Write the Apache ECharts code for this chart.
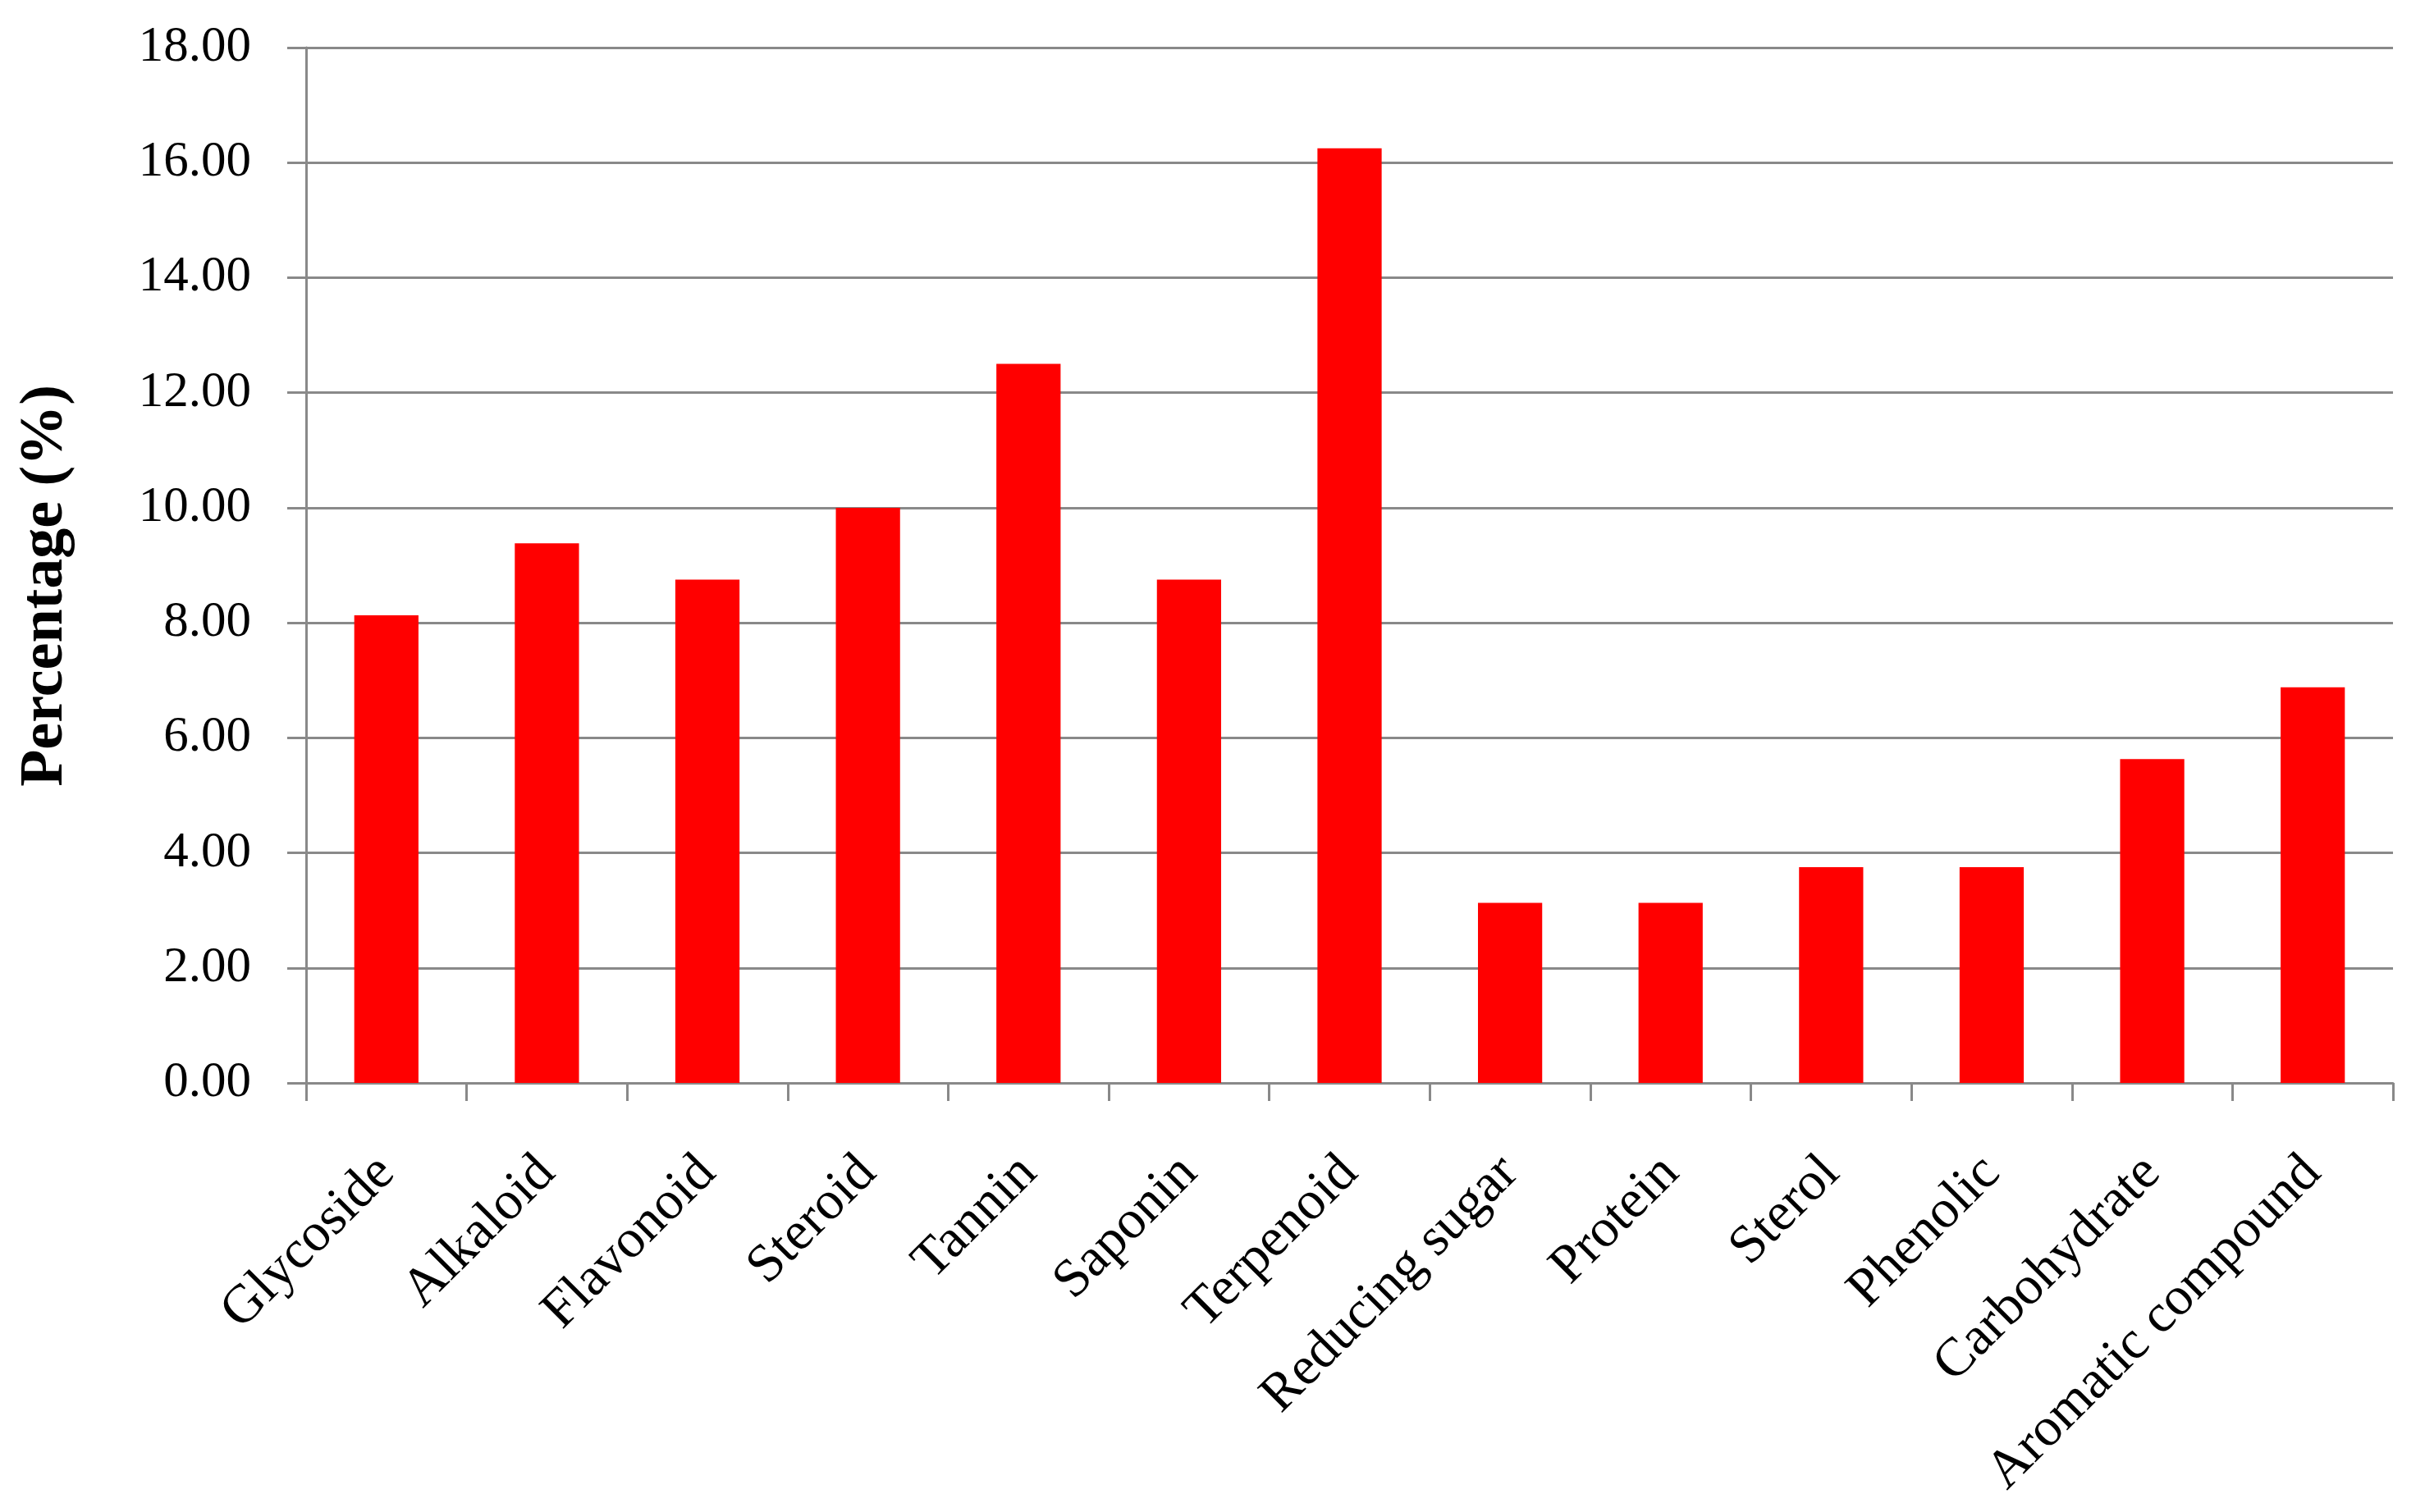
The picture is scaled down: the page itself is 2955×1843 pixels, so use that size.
<!DOCTYPE html>
<html>
<head>
<meta charset="utf-8">
<script src="https://cdn.jsdelivr.net/npm/echarts@6/dist/echarts.min.js"></script>
<style>
html,body{margin:0;padding:0;background:#fff;}
#chart{width:2955px;height:1843px;}
</style>
</head>
<body>
<div id="chart"></div>
<script>
const categories = ["Glycoside","Alkaloid","Flavonoid","Steroid","Tannin","Saponin","Terpenoid","Reducing sugar","Protein","Sterol","Phenolic","Carbohydrate","Aromatic compound"];
const percentages = [8.13, 9.38, 8.75, 10.00, 12.50, 8.75, 16.25, 3.13, 3.13, 3.75, 3.75, 5.63, 6.88];
const yAxisTitle = "Percentage (%)";
const yMin = 0, yMax = 18, yStep = 2;

const gray = '#898989';
const font = '"Liberation Serif", "Times New Roman", serif';
const chart = echarts.init(document.getElementById('chart'), null, {renderer: 'canvas'});
chart.setOption({
  backgroundColor: '#ffffff',
  animation: false,
  grid: {left: 373, right: 39, top: 58, bottom: 523, containLabel: false},
  xAxis: {
    type: 'category',
    data: categories,
    axisLine: {show: true, lineStyle: {color: gray, width: 3}},
    axisTick: {show: true, length: 22, lineStyle: {color: gray, width: 3}},
    axisLabel: {
      rotate: 45, margin: 100, color: '#000', fontFamily: font, fontSize: 66, interval: 0
    },
    splitLine: {show: false}
  },
  yAxis: {
    type: 'value',
    min: yMin, max: yMax, interval: yStep,
    name: yAxisTitle,
    nameLocation: 'middle',
    nameGap: 280,
    nameTextStyle: {color: '#000', fontFamily: font, fontSize: 74, fontWeight: 'bold', padding: [0, 50, 0, 0]},
    axisLine: {show: true, lineStyle: {color: gray, width: 3}},
    axisTick: {show: true, length: 23, lineStyle: {color: gray, width: 3}},
    axisLabel: {
      margin: 67, color: '#000', fontFamily: font, fontSize: 61,
      formatter: v => v.toFixed(2)
    },
    splitLine: {show: true, lineStyle: {color: gray, width: 3}}
  },
  series: [{
    type: 'bar',
    data: percentages,
    barCategoryGap: '60%',
    itemStyle: {color: '#FF0000'}
  }]
});
</script>
</body>
</html>
